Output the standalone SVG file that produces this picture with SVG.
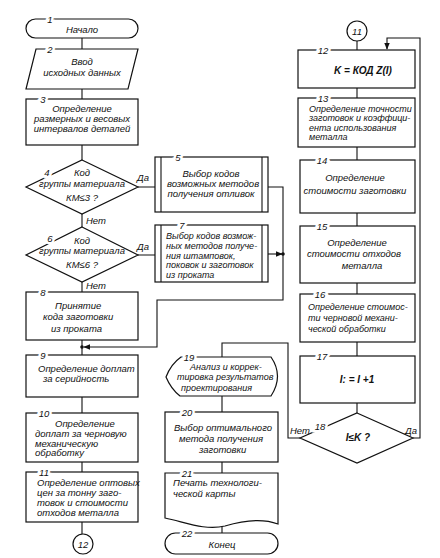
<svg xmlns="http://www.w3.org/2000/svg" width="440" height="558" viewBox="0 0 440 558">
<defs>
<style>
.s{fill:#fff;stroke:#111;stroke-width:1.2}
.c{fill:none;stroke:#111;stroke-width:1.1}
text{font-family:"Liberation Sans",Arial,sans-serif;font-style:italic;font-size:9.5px;fill:#111}
.m{text-anchor:middle}
.t{font-size:9px}
.n{font-size:9.5px;text-anchor:middle;paint-order:stroke;stroke:#fff;stroke-width:5px}
.b{font-weight:bold;font-size:10px}
</style>
<marker id="ah" viewBox="0 0 10 10" refX="9" refY="5" markerWidth="7" markerHeight="7" orient="auto" markerUnits="userSpaceOnUse"><path d="M0,1 L10,5 L0,9 Z" fill="#111"/></marker>
</defs>
<rect width="440" height="558" fill="#fff"/>
<g id="connectors">
<path class="c" d="M82,38 V49 M82,89 V99 M82,145 V160 M82,214 V227 M82,282 V292 M82,340 V355 M82,397 V413 M82,462 V472 M82,522 V534"/>
<path class="c" d="M138,187 H155 M138,255 H155"/>
<path class="c" d="M268,187 H283 V300 H157 V347 H84" marker-end="url(#ah)"/>
<path class="c" d="M268,254 H282" marker-end="url(#ah)"/>
<circle cx="283" cy="254" r="1.8" fill="#111"/>
<circle cx="82" cy="347" r="1.8" fill="#111"/>
<path class="c" d="M357,41 V50 M357,88 V98 M357,147 V160 M357,213 V226 M357,283 V294 M357,342 V356 M357,403 V413"/>
<path class="c" d="M413,438 H420 V38 H387 V49" marker-end="url(#ah)"/>
<path class="c" d="M300,438 H288 V343 H222 V357"/>
<path class="c" d="M222,396 V412 M222,462 V473 M222,525 V533"/>
<text x="143" y="181" class="m">Да</text>
<text x="143" y="250" class="m">Да</text>
<text x="86" y="223.5">Нет</text>
<text x="86" y="289">Нет</text>
<text x="290" y="434">Нет</text>
<text x="405" y="434">Да</text>
</g>
<g id="n1"><rect class="s" x="26" y="19" width="112" height="19" rx="9.5"/><text x="82" y="32.5" class="m">Начало</text><text x="50" y="22.5" class="n">1</text></g>
<g id="n2"><path class="s" d="M36,49 H138 L128,89 H26 Z"/><text x="82" y="65" class="m">Ввод</text><text x="82" y="75.5" class="m">исходных данных</text><text x="50" y="52.5" class="n">2</text></g>
<g id="n3"><rect class="s" x="26" y="99" width="112" height="46"/><text x="82" y="112" class="m">Определение</text><text x="82" y="122" class="m">размерных и весовых</text><text x="82" y="132" class="m">интервалов деталей</text><text x="43" y="102.5" class="n">3</text></g>
<g id="n4"><path class="s" d="M82,160 L138,187 L82,214 L26,187 Z"/><text x="82" y="175.5" class="m">Код</text><text x="82" y="187" class="m">группы материала</text><text x="82" y="201" class="m">КМ≤3 ?</text><text x="47" y="176" class="n">4</text></g>
<g id="n5"><rect class="s" x="155" y="157" width="113" height="55"/><path class="c" d="M161,157 V212 M262,157 V212"/><text x="211" y="176.5" class="m">Выбор кодов</text><text x="213" y="186.5" class="m">возможных методов</text><text x="211" y="196.5" class="m">получения отливок</text><text x="178" y="160.5" class="n">5</text></g>
<g id="n6"><path class="s" d="M82,227 L138,255 L82,282 L26,255 Z"/><text x="82" y="243.5" class="m">Код</text><text x="82" y="254" class="m">группы материала</text><text x="82" y="268" class="m">КМ≤6 ?</text><text x="50" y="241.5" class="n">6</text></g>
<g id="n7"><rect class="s" x="155" y="225" width="113" height="57"/><path class="c" d="M161,225 V282 M262,225 V282"/><text class="t" x="166" y="238.5">Выбор кодов возмож-</text><text class="t" x="166" y="248.5">ных методов получе-</text><text class="t" x="166" y="258.5">ния штамповок,</text><text class="t" x="166" y="268">поковок и заготовок</text><text class="t" x="166" y="277.5">из проката</text><text x="182" y="228.5" class="n">7</text></g>
<g id="n8"><rect class="s" x="26" y="292" width="112" height="48"/><text x="55" y="308.5">Принятие</text><text x="43" y="320">кода заготовки</text><text x="51" y="331.5">из проката</text><text x="43" y="295.5" class="n">8</text></g>
<g id="n9"><rect class="s" x="26" y="355" width="112" height="42"/><text x="38" y="371.5">Определение доплат</text><text x="43" y="381.5">за серийность</text><text x="43" y="358.5" class="n">9</text></g>
<g id="n10"><rect class="s" x="26" y="413" width="112" height="49"/><text x="55" y="426.5">Определение</text><text x="35" y="436.5">доплат за черновую</text><text x="35" y="446.5">механическую</text><text x="35" y="456">обработку</text><text x="44" y="416.5" class="n">10</text></g>
<g id="n11"><rect class="s" x="26" y="472" width="112" height="50"/><text x="37" y="486">Определение оптовых</text><text x="37" y="496">цен за тонну заго-</text><text x="37" y="506">товок и стоимости</text><text x="37" y="516">отходов металла</text><text x="44" y="475.5" class="n">11</text></g>
<g id="n12c"><circle class="s" cx="83" cy="544" r="10"/><text x="83" y="547.5" class="m">12</text></g>
<g id="n11c"><circle class="s" cx="357" cy="31" r="10"/><text x="357" y="34.5" class="m">11</text></g>
<g id="n12"><rect class="s" x="298" y="50" width="117" height="38"/><text x="363" y="73.5" class="m b">K = КОД Z(I)</text><text x="323" y="53.5" class="n">12</text></g>
<g id="n13"><rect class="s" x="298" y="98" width="117" height="49"/><text class="t" x="309" y="111.5">Определение точности</text><text class="t" x="309" y="121">заготовок и коэффици-</text><text class="t" x="309" y="130.5">ента использования</text><text class="t" x="309" y="140">металла</text><text x="323" y="101.5" class="n">13</text></g>
<g id="n14"><rect class="s" x="300" y="160" width="115" height="53"/><text x="355" y="180.5" class="m">Определение</text><text x="355" y="193.5" class="m">стоимости заготовки</text><text x="322" y="163.5" class="n">14</text></g>
<g id="n15"><rect class="s" x="300" y="226" width="115" height="57"/><text x="357" y="245.5" class="m">Определение</text><text x="354" y="257" class="m">стоимости отходов</text><text x="362" y="268.5" class="m">металла</text><text x="322" y="229.5" class="n">15</text></g>
<g id="n16"><rect class="s" x="300" y="294" width="115" height="48"/><text class="t" x="308" y="309.5">Определение стоимос-</text><text class="t" x="308" y="320.5">ти черновой механи-</text><text class="t" x="308" y="331.5">ческой обработки</text><text x="320" y="297.5" class="n">16</text></g>
<g id="n17"><rect class="s" x="300" y="356" width="115" height="47"/><text x="357" y="382.5" class="m b">I: = I +1</text><text x="322" y="359.5" class="n">17</text></g>
<g id="n18"><path class="s" d="M357,413 L413,438 L357,463 L300,438 Z"/><text x="358" y="441" class="m b">I≤K ?</text><text x="320" y="429.5" class="n">18</text></g>
<g id="n19"><path class="s" d="M181,357 H271 Q284,376 271,396 H180 Q171,389 166,377 Q171,364 181,357 Z"/><text class="t" x="190" y="370">Анализ и коррек-</text><text class="t" x="177" y="380">тировка результатов</text><text class="t" x="181" y="390.5">проектирования</text><text x="189" y="360.5" class="n">19</text></g>
<g id="n20"><rect class="s" x="165" y="412" width="113" height="50"/><text x="174" y="430.5">Выбор оптимального</text><text x="179" y="442">метода получения</text><text x="199" y="452.5">заготовки</text><text x="187" y="415.5" class="n">20</text></g>
<g id="n21"><path class="s" d="M165,473 H278 V524 C 262,518 245,520 225,526 C 205,531 185,522 165,518 Z"/><text x="173" y="486">Печать технологи-</text><text x="173" y="497">ческой карты</text><text x="187" y="476.5" class="n">21</text></g>
<g id="n22"><rect class="s" x="165" y="533" width="113" height="21" rx="10.5"/><text x="222" y="547.5" class="m">Конец</text><text x="187" y="536.5" class="n">22</text></g>
</svg>
